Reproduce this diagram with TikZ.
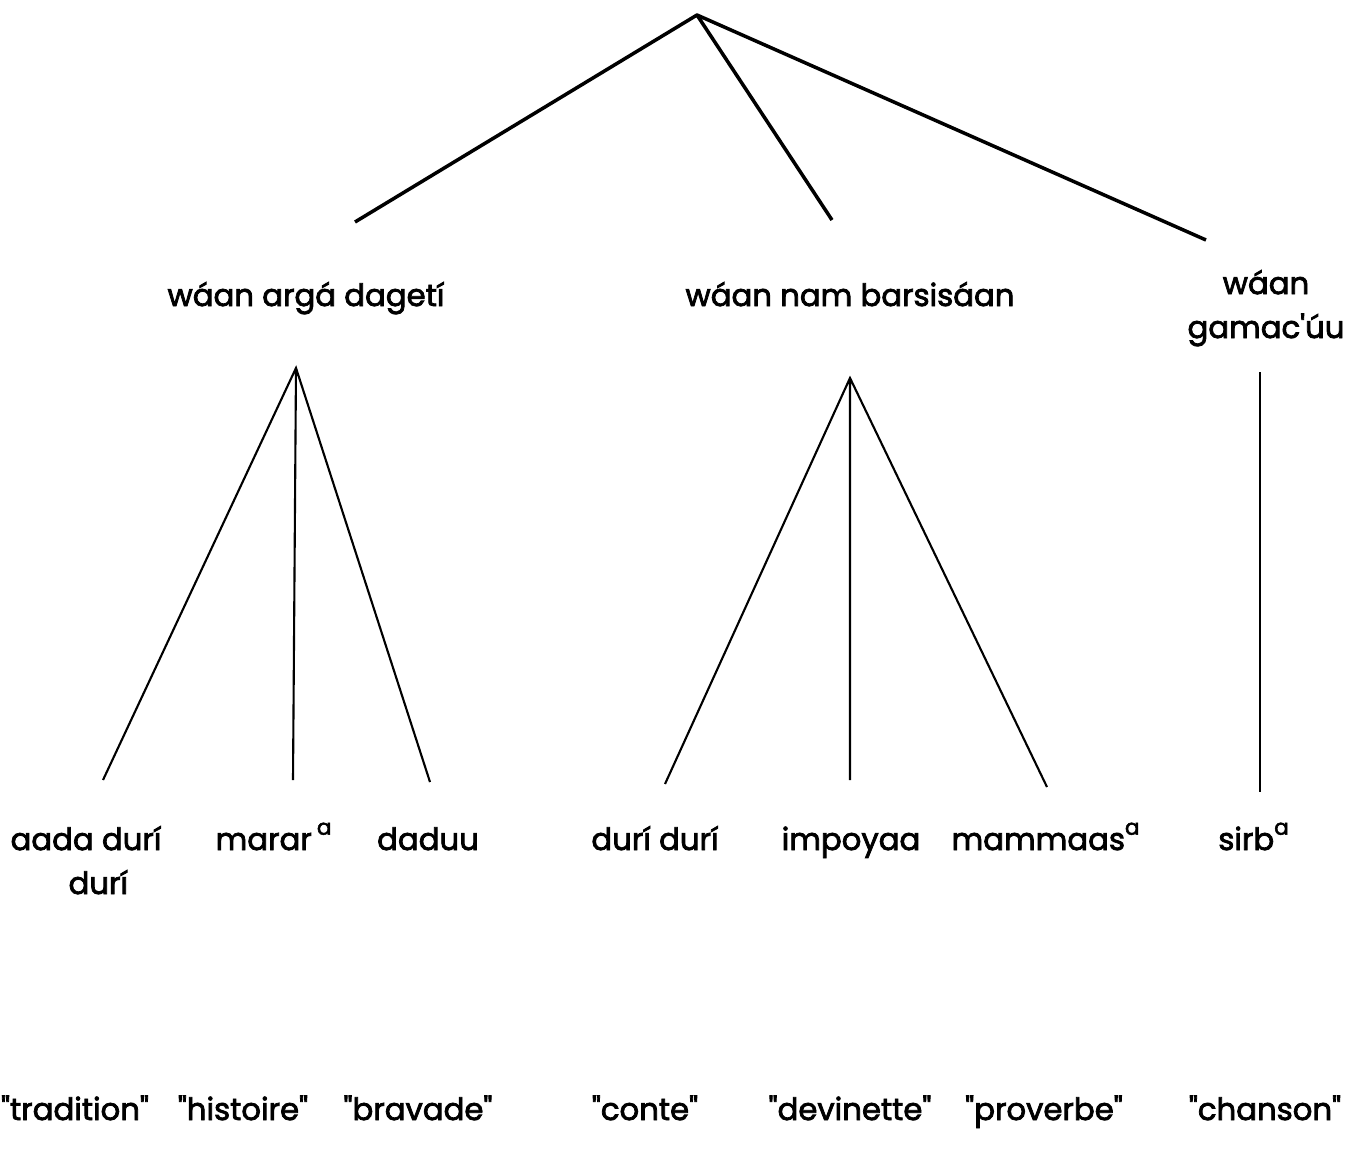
\documentclass[tikz,border=0pt]{standalone}
\usepackage{fontspec}
\setmainfont{Poppins}[Ligatures=TeXOff,FakeBold=2.5]
\begin{document}
\begin{tikzpicture}[x=0.02cm,y=-0.02cm,
    word/.style={font=\fontsize{17.5}{25}\selectfont,anchor=base,inner sep=0pt,align=center},
    branch/.style={line width=1.2pt}]
    \useasboundingbox (0,0) rectangle (1349,1167);
    % top of the tree
    \coordinate (root) at (697,15);
    \coordinate (r1) at (355,222);
    \coordinate (r2) at (832,220);
    \coordinate (r3) at (1206,240);
    \draw[line width=2pt,line join=round] (r1)--(root)--(r3) (root)--(r2);
    \node[word] (arga) at (306,306) {wáan argá dagetí};
    \node[word] (nam) at (850,306) {wáan nam barsisáan};
    \node[word] (gamac) at (1266,338) {wáan\\gamac'úu};
    % first subtree
    \coordinate (a0) at (296,368);
    \coordinate (a1) at (103,780);
    \coordinate (a2) at (293,780);
    \coordinate (a3) at (430,782);
    \draw[branch] (a1)--(a0)--(a3) (a0)--(a2);
    % second subtree
    \coordinate (b0) at (850,378);
    \coordinate (b1) at (665,784);
    \coordinate (b2) at (850,780);
    \coordinate (b3) at (1047,787);
    \draw[branch] (b1)--(b0)--(b3) (b0)--(b2);
    % third one
    \coordinate (c0) at (1260,372);
    \coordinate (c1) at (1260,792);
    \draw[line width=1.5pt] (c0)--(c1);
    % terms
    \node[word] (aada) at (86,894) {aada durí\\\hspace*{0.8em}durí};
    \node[word] (marar) at (274,850) {marar\,\textsuperscript{\raisebox{0.2em}{a}}};
    \node[word] (daduu) at (428,850) {daduu};
    \node[word] (duri) at (655,850) {durí durí};
    \node[word] (impoyaa) at (851,850) {impoyaa};
    \node[word] (mammaas) at (1046,850) {mammaas\textsuperscript{\raisebox{0.2em}{a}}};
    \node[word] (sirb) at (1254,850) {sirb\textsuperscript{\raisebox{0.2em}{a}}};
    % glosses
    \node[word] (tradition) at (75,1120) {"tradition"};
    \node[word] (histoire) at (243,1120) {"histoire"};
    \node[word] (bravade) at (418,1120) {"bravade"};
    \node[word] (conte) at (645,1120) {"conte"};
    \node[word] (devinette) at (850,1120) {"devinette"};
    \node[word] (proverbe) at (1044,1120) {"proverbe"};
    \node[word] (chanson) at (1265,1120) {"chanson"};
\end{tikzpicture}
\end{document}
